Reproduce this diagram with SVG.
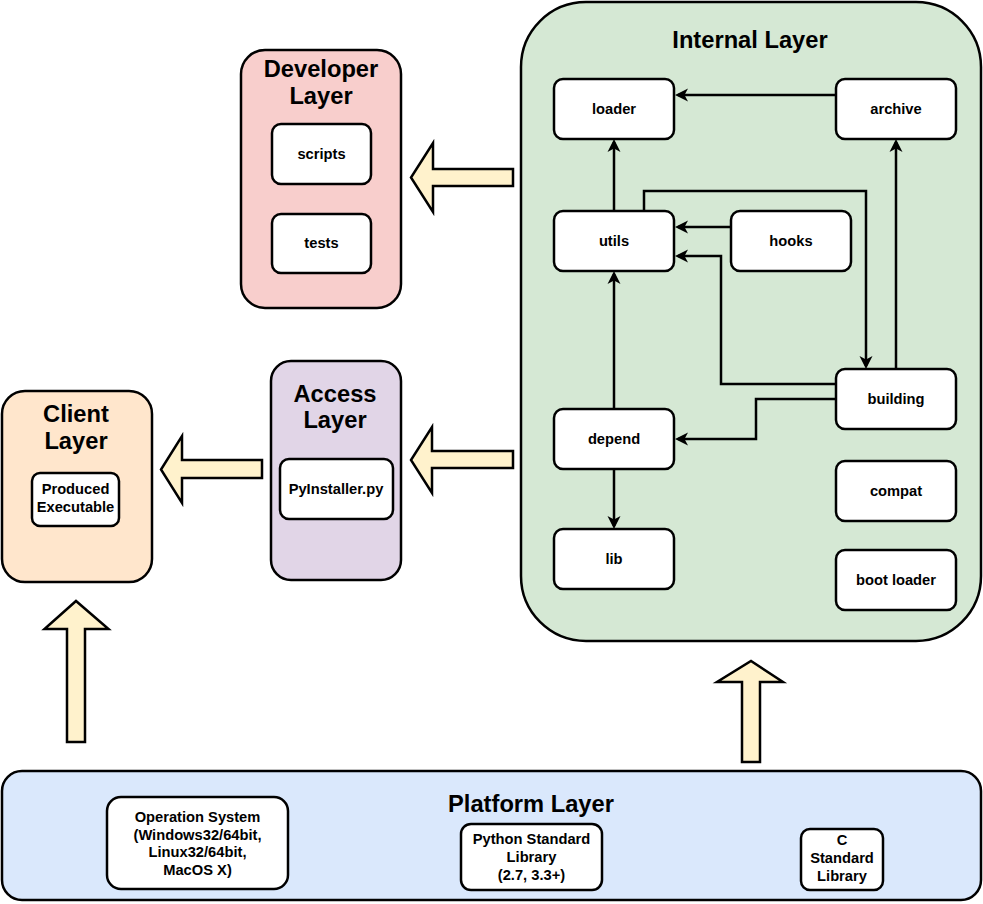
<svg xmlns="http://www.w3.org/2000/svg" width="983" height="904" viewBox="0 0 983 904">
<defs>
<style>
text{font-family:"Liberation Sans",Arial,Helvetica,sans-serif;font-weight:bold;fill:#000;text-anchor:middle}
.t{font-size:23.7px}
.n{font-size:14.7px}
.box{fill:#fff;stroke:#000;stroke-width:2.5}
.layer{stroke:#000;stroke-width:2.5}
.big{fill:#fff2cc;stroke:#000;stroke-width:2.5;stroke-linejoin:miter}
.c{fill:none;stroke:#000;stroke-width:2.5;marker-end:url(#ah)}
</style>
<marker id="ah" markerUnits="userSpaceOnUse" markerWidth="14" markerHeight="14" refX="10" refY="7" orient="auto">
<path d="M0,0.5 L13,7 L0,13.5 L3.5,7 Z" fill="#000"/>
</marker>
</defs>

<g id="internal-layer">
<rect class="layer" x="521" y="2" width="460" height="639" rx="65" fill="#d5e8d4"/>
<text class="t" x="750" y="48">Internal Layer</text>
</g>

<g id="developer-layer">
<rect class="layer" x="241" y="50" width="160" height="258" rx="24" fill="#f8cecc"/>
<text class="t" x="321" y="77">Developer</text>
<text class="t" x="321" y="104">Layer</text>
</g>

<g id="access-layer">
<rect class="layer" x="271" y="361" width="130" height="219" rx="20" fill="#e1d5e7"/>
<text class="t" x="335" y="402">Access</text>
<text class="t" x="335" y="428">Layer</text>
</g>

<g id="client-layer">
<rect class="layer" x="2" y="391" width="150" height="191" rx="23" fill="#ffe6cc"/>
<text class="t" x="76" y="421.5">Client</text>
<text class="t" x="76" y="449">Layer</text>
</g>

<g id="platform-layer">
<rect class="layer" x="2" y="771" width="979" height="129" rx="20" fill="#dae8fc"/>
<text class="t" x="531" y="812">Platform Layer</text>
</g>

<g id="scripts"><rect class="box" x="272" y="124" width="99" height="60" rx="9"/><text class="n" x="321.5" y="159">scripts</text></g>
<g id="tests"><rect class="box" x="272" y="214" width="99" height="59" rx="9"/><text class="n" x="321.5" y="248">tests</text></g>

<g id="pyinstaller"><rect class="box" x="280" y="459" width="113" height="60" rx="9"/><text class="n" x="336" y="493.5">PyInstaller.py</text></g>

<g id="produced-executable"><rect class="box" x="32" y="473" width="87" height="53" rx="8"/><text class="n" x="75.5" y="494">Produced</text><text class="n" x="75.5" y="512">Executable</text></g>

<g id="loader"><rect class="box" x="554" y="79" width="120" height="60" rx="9"/><text class="n" x="614" y="114">loader</text></g>
<g id="archive"><rect class="box" x="836" y="79" width="120" height="60" rx="9"/><text class="n" x="896" y="114">archive</text></g>
<g id="utils"><rect class="box" x="554" y="211" width="120" height="60" rx="9"/><text class="n" x="614" y="246">utils</text></g>
<g id="hooks"><rect class="box" x="731" y="211" width="120" height="60" rx="9"/><text class="n" x="791" y="246">hooks</text></g>
<g id="building"><rect class="box" x="836" y="369" width="120" height="60" rx="9"/><text class="n" x="896" y="404">building</text></g>
<g id="depend"><rect class="box" x="554" y="409" width="120" height="60" rx="9"/><text class="n" x="614" y="444">depend</text></g>
<g id="compat"><rect class="box" x="836" y="461" width="120" height="60" rx="9"/><text class="n" x="896" y="496">compat</text></g>
<g id="lib"><rect class="box" x="554" y="529" width="120" height="60" rx="9"/><text class="n" x="614" y="564">lib</text></g>
<g id="boot-loader"><rect class="box" x="836" y="550" width="120" height="60" rx="9"/><text class="n" x="896" y="585">boot loader</text></g>

<g id="operation-system"><rect class="box" x="107" y="797" width="181" height="92" rx="14"/>
<text class="n" x="197.5" y="822">Operation System</text>
<text class="n" x="197.5" y="839.5">(Windows32/64bit,</text>
<text class="n" x="197.5" y="857">Linux32/64bit,</text>
<text class="n" x="197.5" y="874.5">MacOS X)</text></g>

<g id="python-stdlib"><rect class="box" x="461" y="824" width="141" height="66" rx="10"/>
<text class="n" x="531.5" y="844">Python Standard</text>
<text class="n" x="531.5" y="862">Library</text>
<text class="n" x="531.5" y="880">(2.7, 3.3+)</text></g>

<g id="c-stdlib"><rect class="box" x="801" y="829" width="82" height="61" rx="9"/>
<text class="n" x="842" y="845">C</text>
<text class="n" x="842" y="863">Standard</text>
<text class="n" x="842" y="881">Library</text></g>

<g id="connectors">
<path class="c" d="M836,95 H678"/>
<path class="c" d="M614,211 V142"/>
<path class="c" d="M644,211 V191 H866 V366"/>
<path class="c" d="M731,227 H678"/>
<path class="c" d="M836,384 H721 V256 H678"/>
<path class="c" d="M896,369 V142"/>
<path class="c" d="M614,409 V274"/>
<path class="c" d="M836,399 H756 V439 H678"/>
<path class="c" d="M614,469 V526"/>
</g>

<g id="layer-arrows">
<path class="big" d="M513,169 L433,169 L433,143 L411,177.5 L433,212 L433,186 L513,186 Z"/>
<path class="big" d="M513,451 L432,451 L432,427 L411,460 L432,493 L432,468 L513,468 Z"/>
<path class="big" d="M262,460 L182,460 L182,436 L161,469.5 L182,503 L182,478 L262,478 Z"/>
<path class="big" d="M67,742 L67,629 L44.5,629 L76,601 L108.5,629 L85,629 L85,742 Z"/>
<path class="big" d="M742,762 L742,682 L717,682 L751,661 L783,682 L760,682 L760,762 Z"/>
</g>
</svg>
